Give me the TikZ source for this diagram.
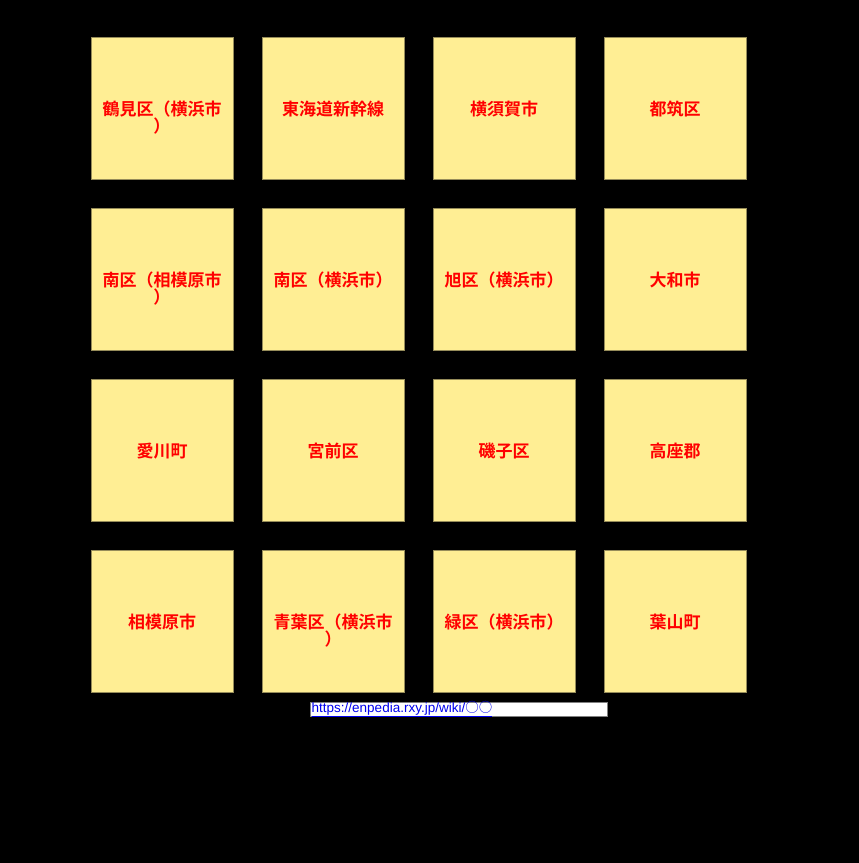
\documentclass[tikz,border=0pt]{standalone}
\usepackage{fontspec}
\newfontfamily\jp{Noto Sans CJK JP}
\newfontfamily\jpb{Noto Sans CJK JP Bold}
\newfontfamily\lnk{Liberation Sans}
\definecolor{sqfill}{RGB}{255,238,148}
\definecolor{sqline}{RGB}{150,140,90}
\definecolor{lnkblue}{RGB}{0,0,238}
\begin{document}
\begin{tikzpicture}[x=1pt,y=-1pt,
  sq/.style={draw=sqline,line width=0.8pt,fill=sqfill,minimum width=142pt,minimum height=142pt,inner sep=0pt},
  lbl/.style={text=red,font=\jpb\fontsize{17}{17}\selectfont,align=center,inner sep=0pt,anchor=north}]
\fill[black] (0,0) rectangle (859,863);
\useasboundingbox (0,0) rectangle (859,863);
% squares
\foreach \c/\x in {1/162,2/333,3/504,4/675}{
  \foreach \r/\y in {1/108,2/279,3/450,4/621}{
    \node[sq] (s\r\c) at (\x,\y) {};
  }
}
\node[lbl] (t11) at ([yshift=7pt]s11.center) {鶴見区（横浜市\\）};
\node[lbl] (t12) at ([yshift=7pt]s12.center) {東海道新幹線};
\node[lbl] (t13) at ([yshift=7pt]s13.center) {横須賀市};
\node[lbl] (t14) at ([yshift=7pt]s14.center) {都筑区};
\node[lbl] (t21) at ([yshift=7pt]s21.center) {南区（相模原市\\）};
\node[lbl] (t22) at ([yshift=7pt]s22.center) {南区（横浜市）};
\node[lbl] (t23) at ([yshift=7pt]s23.center) {旭区（横浜市）};
\node[lbl] (t24) at ([yshift=7pt]s24.center) {大和市};
\node[lbl] (t31) at ([yshift=7pt]s31.center) {愛川町};
\node[lbl] (t32) at ([yshift=7pt]s32.center) {宮前区};
\node[lbl] (t33) at ([yshift=7pt]s33.center) {磯子区};
\node[lbl] (t34) at ([yshift=7pt]s34.center) {高座郡};
\node[lbl] (t41) at ([yshift=7pt]s41.center) {相模原市};
\node[lbl] (t42) at ([yshift=7pt]s42.center) {青葉区（横浜市\\）};
\node[lbl] (t43) at ([yshift=7pt]s43.center) {緑区（横浜市）};
\node[lbl] (t44) at ([yshift=7pt]s44.center) {葉山町};
% link box
\node[draw=gray,fill=white,line width=0.6pt,minimum width=297pt,minimum height=14pt,inner sep=0pt,anchor=north west] (box) at (310,702) {};
\node[anchor=west,inner sep=0pt,text=lnkblue,font=\lnk\fontsize{13.5}{14}\selectfont] (link) at ([xshift=1.5pt,yshift=0.5pt]box.west) {\underline{https://enpedia.rxy.jp/wiki/{\jp ○○}}};
\end{tikzpicture}
\end{document}
